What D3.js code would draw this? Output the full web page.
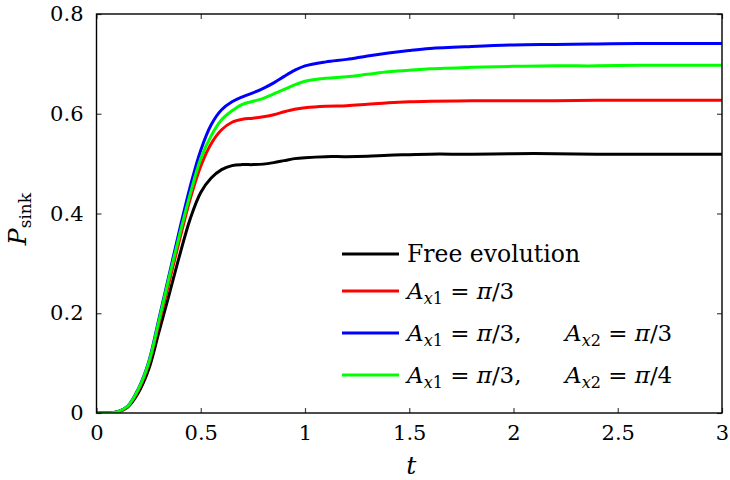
<!DOCTYPE html>
<html><head><meta charset="utf-8">
<script src="https://cdn.jsdelivr.net/npm/d3@7"></script>
<style>body{margin:0;background:#fff}svg{display:block}</style>
</head><body>
<svg id="c" width="730" height="480"></svg>
<script>
const tValues = [0,0.05,0.1,0.15,0.2,0.25,0.3,0.35,0.4,0.45,0.5,0.55,0.6,0.65,0.7,0.75,0.8,0.85,0.9,0.95,1.0,1.1,1.2,1.3,1.4,1.5,1.6,1.8,2.0,2.2,2.4,2.6,2.8,3.0];
const freeEvolution = [0,0,0.002,0.012,0.04,0.087,0.163,0.24,0.318,0.39,0.442,0.471,0.488,0.496,0.498,0.498,0.499,0.502,0.506,0.510,0.512,0.514,0.514,0.515,0.517,0.518,0.519,0.519,0.520,0.520,0.519,0.519,0.519,0.519];
const ax1Pi3 = [0,0,0.002,0.013,0.045,0.097,0.18,0.265,0.35,0.43,0.495,0.54,0.568,0.583,0.589,0.591,0.594,0.598,0.604,0.609,0.612,0.615,0.616,0.619,0.622,0.624,0.625,0.626,0.626,0.626,0.627,0.627,0.627,0.627];
const ax1Pi3ax2Pi3 = [0,0,0.002,0.014,0.048,0.102,0.19,0.28,0.37,0.455,0.527,0.578,0.608,0.624,0.634,0.642,0.651,0.662,0.675,0.687,0.696,0.704,0.709,0.716,0.722,0.727,0.731,0.735,0.738,0.739,0.740,0.741,0.741,0.741];
const ax1Pi3ax2Pi4 = [0,0,0.002,0.014,0.047,0.10,0.186,0.275,0.36,0.44,0.51,0.556,0.588,0.606,0.619,0.625,0.631,0.64,0.649,0.658,0.665,0.671,0.674,0.679,0.684,0.687,0.690,0.693,0.695,0.696,0.696,0.697,0.697,0.697];
const xTicks = [0,0.5,1,1.5,2,2.5,3];
const xTickLabels = ["0","0.5","1","1.5","2","2.5","3"];
const yTicks = [0,0.2,0.4,0.6,0.8];
const yTickLabels = ["0","0.2","0.4","0.6","0.8"];

const series = [
  {values: freeEvolution, color: "#000000"},
  {values: ax1Pi3, color: "#ff0000"},
  {values: ax1Pi3ax2Pi3, color: "#0000ff"},
  {values: ax1Pi3ax2Pi4, color: "#00ff00"}
];

const L = 96.5, R = 722, T = 14, B = 413;
const FONT = "'DejaVu Serif', serif";
const svg = d3.select("#c");
const x = d3.scaleLinear().domain([0,3]).range([L,R]);
const y = d3.scaleLinear().domain([0,0.8]).range([B,T]);

svg.append("clipPath").attr("id","clp").append("rect")
  .attr("x",L).attr("y",T-2).attr("width",R-L).attr("height",B-T+2);

const line = d3.line().x((d,i)=>x(tValues[i])).y(d=>y(d)).curve(d3.curveCatmullRom.alpha(0.5));
const g = svg.append("g").attr("clip-path","url(#clp)");
series.forEach(s=>{
  g.append("path").datum(s.values).attr("d",line)
   .attr("fill","none").attr("stroke",s.color).attr("stroke-width",3)
   .attr("stroke-linejoin","round");
});

function styleAxis(sel){
  sel.select(".domain").remove();
  sel.selectAll(".tick line").attr("stroke","#444").attr("stroke-width",1.2);
  sel.selectAll(".tick text").attr("font-family",FONT).attr("font-size",21).attr("fill","#000");
}
const xb = svg.append("g").attr("transform",`translate(0,${B})`)
  .call(d3.axisBottom(x).tickValues(xTicks).tickFormat((d,i)=>xTickLabels[i]).tickSizeInner(-5).tickSizeOuter(0).tickPadding(12));
styleAxis(xb);
const xt = svg.append("g").attr("transform",`translate(0,${T})`)
  .call(d3.axisTop(x).tickValues(xTicks).tickFormat("").tickSizeInner(-5).tickSizeOuter(0));
styleAxis(xt);
const yl = svg.append("g").attr("transform",`translate(${L},0)`)
  .call(d3.axisLeft(y).tickValues(yTicks).tickFormat((d,i)=>yTickLabels[i]).tickSizeInner(-5).tickSizeOuter(0).tickPadding(13));
styleAxis(yl);
const yr = svg.append("g").attr("transform",`translate(${R},0)`)
  .call(d3.axisRight(y).tickValues(yTicks).tickFormat("").tickSizeInner(-5).tickSizeOuter(0));
styleAxis(yr);

svg.append("rect").attr("x",L).attr("y",T).attr("width",R-L).attr("height",B-T)
  .attr("fill","none").attr("stroke","#000").attr("stroke-width",1.4);

// axis labels
svg.append("text").attr("x",(L+R)/2+2).attr("y",474).attr("text-anchor","middle")
  .attr("font-family",FONT).attr("font-size",25).attr("font-style","italic").text("t");
const yt = svg.append("text").attr("transform","translate(26,219) rotate(-90)")
  .attr("text-anchor","middle").attr("font-family",FONT).attr("font-size",25);
yt.append("tspan").attr("font-style","italic").text("P");
yt.append("tspan").attr("font-size",17).attr("dy",5).text("sink");

// legend
function mathParts(k, v, tail){
  return [["A","italic",23,0],["x","italic",16,5],[k,"normal",16,0],[" = ","normal",23,-5],["π","italic",23,0],[v+tail,"normal",23,0]];
}
const legend = [
  {color:"#000000", parts:[["Free evolution","normal",23.5,0]]},
  {color:"#ff0000", parts:mathParts("1","/3","")},
  {color:"#0000ff", parts:mathParts("1","/3",","), parts2:mathParts("2","/3","")},
  {color:"#00ff00", parts:mathParts("1","/3",","), parts2:mathParts("2","/4","")}
];
const rowY = [254, 291, 333, 375];
legend.forEach((it,i)=>{
  const ly = rowY[i];
  svg.append("line").attr("x1",342).attr("x2",399).attr("y1",ly).attr("y2",ly)
    .attr("stroke",it.color).attr("stroke-width",3);
  function write(parts, x0){
    const tx = svg.append("text").attr("x",x0).attr("y",ly+8).attr("font-family",FONT)
      .attr("xml:space","preserve").style("white-space","pre");
    parts.forEach(p=>{
      tx.append("tspan").attr("font-style",p[1]).attr("font-size",p[2]).attr("dy",p[3]).text(p[0]);
    });
  }
  write(it.parts, 407);
  if(it.parts2) write(it.parts2, 565);
});
</script>
</body></html>
